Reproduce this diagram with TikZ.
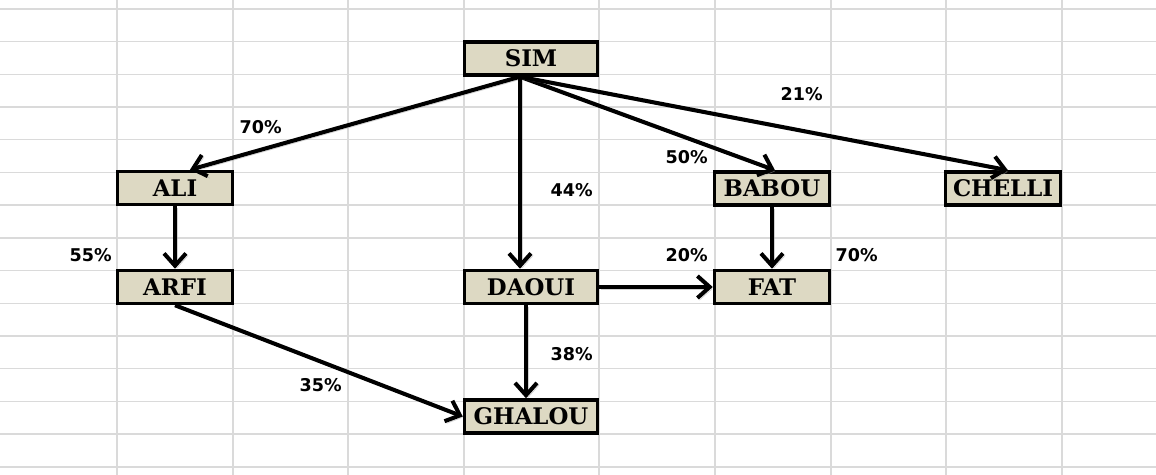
\documentclass[tikz,border=0pt]{standalone}
\usepackage{fontspec}
\usetikzlibrary{arrows.meta}
\newfontfamily\boxfont{DejaVu Serif}
\newfontfamily\pctfont{DejaVu Sans}
\definecolor{cellfill}{RGB}{221,217,195}
\definecolor{gridgray}{RGB}{218,218,218}

\begin{document}
\begin{tikzpicture}[x=0.02cm, y=-0.02cm,
    >={Straight Barb[length=7pt, width=12.5pt]},
    gridline/.style={gridgray, line width=0.8pt},
    box/.style={draw, line width=2pt, fill=cellfill, inner sep=0pt,
        minimum height=0.66cm, font=\boxfont\bfseries\fontsize{13}{15}\selectfont},
    widebox/.style={box, minimum width=2.66cm},
    narrowbox/.style={box, minimum width=2.3cm},
    link/.style={->, line width=2.3pt,
        preaction={draw=black!35, opacity=0.5, transform canvas={xshift=1.2pt, yshift=-1.2pt}}},
    pct/.style={anchor=east, inner sep=0pt, font=\pctfont\bfseries\fontsize{10}{12}\selectfont}]
    % 背景和表格线
    \useasboundingbox[fill=white] (0,0) rectangle (1156,475);
    \foreach \gx in {117,233,348,464,599,715,831,946,1062}
        \draw[gridline] (\gx,0) -- (\gx,475);
    \foreach \k [evaluate=\k as \gy using 9+32.7*\k] in {0,...,14}
        \draw[gridline] (0,\gy) -- (1156,\gy);

    % 方框
    \node[widebox] (sim) at (531,58.5) {SIM};
    \node[narrowbox] (ali) at (175,188) {ALI};
    \node[narrowbox] (babou) at (772,188.5) {BABOU};
    \node[narrowbox] (chelli) at (1003,188.5) {CHELLI};
    \node[narrowbox] (arfi) at (175,287) {ARFI};
    \node[widebox] (daoui) at (531,287) {DAOUI};
    \node[narrowbox] (fat) at (772,287) {FAT};
    \node[widebox] (ghalou) at (531,416.5) {GHALOU};

    % 箭头
    \coordinate (simout) at ([xshift=-0.22cm]sim.south);
    \draw[link] (simout) -- ([xshift=0.3cm]ali.north);
    \draw[link] (simout) -- (simout |- daoui.north);
    \draw[link] (simout) -- ([xshift=0.06cm]babou.north);
    \draw[link] (simout) -- ([xshift=0.1cm]chelli.north);
    \draw[link] (ali) -- (arfi);
    \draw[link] (arfi.south) -- (ghalou.west);
    \draw[link] (daoui) -- (fat);
    \draw[link] ([xshift=-0.1cm]daoui.south) -- ([xshift=-0.1cm]ghalou.north);
    \draw[link] (babou) -- (fat);

    % 百分比
    \node[pct] (p-ali) at (282,127) {70\%};
    \node[pct] (p-chelli) at (823,94) {21\%};
    \node[pct] (p-babou) at (708,157) {50\%};
    \node[pct] (p-daoui) at (593,190) {44\%};
    \node[pct] (p-arfi) at (112,255) {55\%};
    \node[pct] (p-dfat) at (708,255) {20\%};
    \node[pct] (p-bfat) at (878,255) {70\%};
    \node[pct] (p-dghalou) at (593,354) {38\%};
    \node[pct] (p-aghalou) at (342,385) {35\%};
\end{tikzpicture}
\end{document}
